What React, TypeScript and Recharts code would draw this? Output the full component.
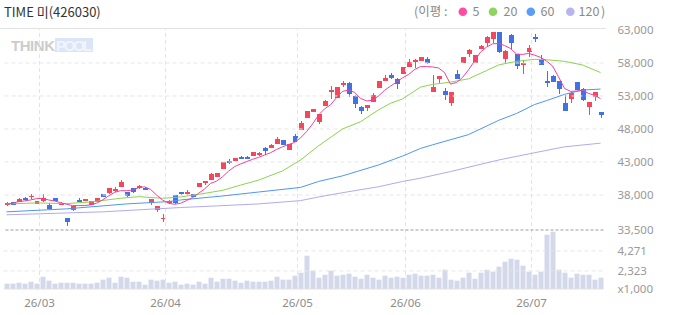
import React from "react";
import { ComposedChart, Bar, Line, XAxis, YAxis, ReferenceLine } from "recharts";

// ---- categories (trading days) ----
const dates = [
  "26/02/20", "26/02/23", "26/02/24", "26/02/25", "26/02/26", "26/02/27",
  "26/03/03", "26/03/04", "26/03/05", "26/03/06", "26/03/09", "26/03/10", "26/03/11", "26/03/12", "26/03/13",
  "26/03/16", "26/03/17", "26/03/18", "26/03/19", "26/03/20", "26/03/23", "26/03/24", "26/03/25", "26/03/26",
  "26/03/27", "26/03/30", "26/03/31",
  "26/04/01", "26/04/02", "26/04/03", "26/04/06", "26/04/07", "26/04/08", "26/04/09", "26/04/10", "26/04/13",
  "26/04/14", "26/04/15", "26/04/16", "26/04/17", "26/04/20", "26/04/21", "26/04/22", "26/04/23", "26/04/24",
  "26/04/27", "26/04/28", "26/04/29", "26/04/30",
  "26/05/04", "26/05/06", "26/05/07", "26/05/08", "26/05/11", "26/05/12", "26/05/13", "26/05/14", "26/05/15",
  "26/05/18", "26/05/19", "26/05/20", "26/05/21", "26/05/22", "26/05/26", "26/05/27", "26/05/28", "26/05/29",
  "26/06/01", "26/06/02", "26/06/04", "26/06/05", "26/06/08", "26/06/09", "26/06/10", "26/06/11", "26/06/12",
  "26/06/15", "26/06/16", "26/06/17", "26/06/18", "26/06/19", "26/06/22", "26/06/23", "26/06/24", "26/06/25",
  "26/06/26", "26/06/29", "26/06/30",
  "26/07/01", "26/07/02", "26/07/03", "26/07/06", "26/07/07", "26/07/08", "26/07/09", "26/07/10", "26/07/13",
  "26/07/14", "26/07/15", "26/07/16",
];

// ---- OHLC ----
const opens = [
  36450, 36950, 37000, 37600, 37750, 36700, 37100, 36550, 37500, 36550,
  34500, 35700, 37300, 37100, 36500, 36950, 38150, 38250, 38600, 39250,
  38450, 39050, 39050, 39100, 36750, 35750, 34350, 36850, 38000, 38400,
  38200, 38150, 39250, 39750, 40300, 40800, 42000, 43200, 43200, 43800,
  43800, 43900, 44000, 45100, 45150, 45800, 46350, 44800, 46950, 47900,
  49650, 50600, 49100, 51550, 53600, 52700, 54650, 55000, 53050, 51400,
  51150, 52150, 54200, 55300, 56150, 55600, 56400, 57400, 58200, 58350,
  58600, 53650, 55600, 53800, 52000, 56350, 58050, 59400, 58050, 60150,
  61100, 61600, 62700, 58550, 62250, 59350, 57650, 59700, 62000, 58600,
  55250, 56050, 55250, 51900, 52600, 55100, 54000, 51400, 52850, 50600,
];
const highs = [
  36900, 37000, 37600, 37750, 38100, 37100, 38150, 36850, 37550, 36900,
  34550, 36400, 37550, 37400, 37100, 37600, 38200, 39100, 39200, 40250,
  38500, 39100, 39500, 39150, 37400, 36350, 35100, 37300, 38050, 38450,
  38750, 38200, 39850, 40150, 41300, 41350, 43050, 43500, 43650, 43850,
  43850, 44550, 44450, 45300, 45750, 46750, 46400, 45800, 47250, 49150,
  50800, 51100, 50300, 52400, 54500, 54400, 55200, 55050, 53100, 51450,
  51650, 53450, 55300, 56150, 56450, 55650, 57450, 58600, 58650, 58900,
  58900, 56200, 56100, 54200, 53650, 56950, 58950, 60100, 59250, 60650,
  62050, 62750, 62750, 59900, 62400, 59400, 58400, 60750, 62400, 59250,
  56850, 56200, 55300, 53100, 53550, 55150, 54200, 52150, 53650, 50650,
];
const lows = [
  36400, 36500, 36950, 37150, 37450, 36650, 36950, 35750, 37050, 36500,
  33350, 35650, 36950, 37050, 36450, 36900, 37700, 38200, 38450, 39200,
  37750, 38250, 38900, 38750, 36550, 35450, 33950, 36650, 36700, 38050,
  37950, 37700, 39200, 39500, 40250, 40750, 41950, 42750, 43150, 43450,
  43400, 43850, 43950, 44000, 45100, 45750, 45550, 44750, 46000, 47850,
  49600, 50550, 48800, 51500, 52600, 52650, 54400, 52900, 51250, 50250,
  50800, 52100, 54150, 55250, 55600, 54100, 56350, 57350, 57200, 58300,
  57800, 53600, 54900, 52450, 51550, 55550, 58000, 58950, 58000, 60100,
  60400, 61100, 59450, 57950, 60100, 57150, 56350, 58950, 61200, 57700,
  54400, 55100, 53350, 50750, 52000, 53900, 52250, 50150, 52300, 49700,
];
const closes = [
  36850, 36550, 37450, 37300, 37900, 37050, 37550, 35850, 37100, 36850,
  33950, 36350, 37000, 37350, 37050, 37550, 37750, 39050, 38900, 40000,
  37900, 38450, 39350, 38800, 37350, 36300, 34550, 37150, 36750, 38100,
  38450, 37750, 39800, 40100, 41250, 41300, 43000, 42900, 43600, 43500,
  43450, 44500, 44400, 44700, 45550, 46450, 45600, 45750, 46050, 48850,
  50750, 51050, 50250, 52200, 53900, 54350, 55000, 53250, 51850, 50800,
  51600, 53150, 55250, 55700, 55800, 54850, 57400, 58150, 58500, 58850,
  58000, 54400, 56050, 53200, 53600, 55600, 58900, 59950, 59200, 60600,
  62000, 62700, 59700, 59850, 61050, 57550, 58050, 60250, 61600, 57750,
  55000, 55150, 54100, 50800, 53500, 53950, 52450, 52100, 53600, 50150,
];

// ---- volume (x1,000) ----
const volumes = [
  1080, 1080, 1170, 1080, 1270, 1080, 1760, 1370, 1080, 1170,
  1170, 1170, 1080, 1080, 1080, 1170, 1470, 1660, 1170, 1760,
  1660, 1270, 1270, 980, 1470, 1370, 1470, 1170, 1270, 980,
  1080, 980, 1270, 1080, 1660, 1270, 1560, 1560, 1370, 1170,
  1370, 1270, 1270, 1270, 1370, 1760, 1470, 1470, 1860, 2150,
  3800, 2340, 1660, 1950, 2340, 1860, 1950, 2050, 1760, 1560,
  1950, 1660, 1470, 1860, 1660, 1760, 1660, 1950, 2050, 1860,
  1860, 1950, 1660, 2440, 1470, 1370, 1660, 2150, 1560, 2150,
  2440, 2250, 2730, 3220, 3510, 3410, 2830, 2250, 1950, 2250,
  5850, 6140, 2440, 2150, 1660, 2050, 1950, 1950, 1470, 1660,
];

// ---- moving averages ----
const ma5 = [
  36600, 36750, 37000, 37100, 37250, 37450, 37500, 37250, 37100, 36850,
  36600, 36400, 36400, 36400, 36500, 36750, 37250, 37850, 38400, 38650,
  38650, 38750, 39100, 39250, 38850, 38000, 37250, 36750, 36600, 36750,
  37150, 37600, 38250, 38900, 39750, 40100, 40750, 41600, 42300, 42700,
  43050, 43400, 43700, 44050, 44400, 44900, 45300, 45650, 45950, 46650,
  47600, 48750, 50100, 51050, 51650, 52750, 53700, 53900, 53550, 52650,
  52250, 52350, 53000, 53850, 54500, 55100, 55750, 56250, 57000, 57450,
  57450, 57400, 57250, 56550, 54800, 55050, 55800, 56950, 58300, 59650,
  60400, 60900, 60950, 60650, 60200, 59350, 59300, 59450, 59200, 58850,
  58300, 57550, 55900, 54150, 53700, 53750, 53850, 53400, 53100, 52600,
];
const ma20Samples: [number, number][] = [
  [0, 36650], [5, 36800], [10, 36700], [14, 36950], [19, 37500], [22, 37750], [26, 37500],
  [29, 37700], [32, 38100], [36, 38700], [39, 39500], [42, 40250], [46, 41650], [49, 43300],
  [52, 45450], [56, 48000], [59, 49100], [62, 50900], [64, 51900], [66, 52550], [69, 54350],
  [71, 54750], [74, 55100], [77, 55600], [80, 56850], [82, 57700], [85, 58250], [88, 58550],
  [90, 58500], [93, 58250], [96, 57700], [99, 56550],
];
const ma60Samples: [number, number][] = [
  [0, 35450], [10, 35900], [20, 36650], [27, 37000], [29, 37250], [36, 37850], [42, 38450],
  [49, 39150], [52, 40050], [56, 40900], [62, 42550], [66, 43900], [69, 45050], [71, 45600],
  [77, 47150], [82, 49300], [85, 50350], [88, 51700], [90, 52300], [93, 53250], [96, 53900],
  [99, 54050],
];
const ma120Samples: [number, number][] = [
  [0, 35000], [16, 35450], [29, 36100], [35, 36350], [42, 36650], [49, 37150], [52, 37700],
  [56, 38350], [62, 39250], [66, 40050], [69, 40550], [74, 41550], [82, 43300], [88, 44400],
  [93, 45300], [99, 45850],
];

// ---- axes / labels ----
const monthStarts = ["26/03/03", "26/04/01", "26/05/04", "26/06/01", "26/07/01"];
const priceTicks = [38000, 43000, 48000, 53000, 58000, 63000];
const priceGrid = [38000, 43000, 48000, 53000, 58000];
const volumeTicks = [2323, 4271];
const PRICE_DOMAIN: [number, number] = [23760, 63300];
const VOLUME_DOMAIN: [number, number] = [560, 25980];
const PANEL_SPLIT = 32700;
const PANEL_SPLIT_LABEL = "33,500";
const VOLUME_UNIT_LABEL = "x1,000";
const TITLE = "TIME 미(426030)";
const maLegend = [
  { label: "5", color: "#ff4da6", cx: 462.8, tx: 472.5 },
  { label: "20", color: "#8fd45c", cx: 493, tx: 503.5 },
  { label: "60", color: "#5a9cf7", cx: 530.8, tx: 540.5 },
  { label: "120", color: "#b8b4ef", cx: 570.3, tx: 578.5 },
];

const RED = "#f4475b";
const BLUE = "#4072e4";
const fmt = (v: number) => v.toLocaleString("en-US");

const toLookup = (s: [number, number][]) => {
  const m = new Map<number, number>(s);
  return (i: number) => (m.has(i) ? (m.get(i) as number) : null);
};
const ma20At = toLookup(ma20Samples);
const ma60At = toLookup(ma60Samples);
const ma120At = toLookup(ma120Samples);

const rows = dates.map((d, i) => ({
  date: d,
  range: [lows[i], highs[i]],
  open: opens[i],
  high: highs[i],
  low: lows[i],
  close: closes[i],
  vol: volumes[i],
  ma5: ma5[i],
  ma20: ma20At(i),
  ma60: ma60At(i),
  ma120: ma120At(i),
}));

const Candle = (props: any) => {
  const { x, y, width, height, payload } = props;
  if (x == null || y == null || !payload) return null;
  const top = Math.min(y, y + height);
  const h = Math.abs(height);
  const { open, close, high, low } = payload;
  const k = high > low ? h / (high - low) : 0;
  const py = (p: number) => top + (high - p) * k;
  const color = close >= open ? RED : BLUE;
  const bx = Math.round(x);
  const bw = Math.round(width);
  const bTop = Math.round(py(Math.max(open, close)));
  const bBot = Math.round(py(Math.min(open, close)));
  const wTop = Math.round(top);
  const wBot = Math.round(top + h);
  return (
    <g>
      <rect x={bx + Math.floor(bw / 2)} y={wTop} width={1} height={Math.max(1, wBot - wTop)} fill={color} />
      <rect x={bx} y={bTop} width={bw} height={Math.max(1, bBot - bTop)} fill={color} />
    </g>
  );
};

const MonthTick = (props: any) => {
  const { x, y, payload } = props;
  return (
    <text x={x - 3} y={y} dy="0.71em" textAnchor="middle" fill="#8c8c8c" fontSize={11.5}>
      {String(payload.value).slice(0, 5)}
    </text>
  );
};

const labelStyle = { fill: "#999", fontSize: 11.5 };

export default function App() {
  return (
    <div
      style={{
        position: "absolute",
        left: 0,
        top: 0,
        width: 673,
        height: 315,
        background: "#fff",
        fontFamily: "'Noto Sans', 'Noto Sans CJK KR', sans-serif",
      }}
    >
      <svg width={673} height={315} style={{ position: "absolute", left: 0, top: 0 }}>
        <line x1={0} x2={606} y1={28.5} y2={28.5} stroke="#e2e2e2" />
        <g opacity={0.85}>
          <text x={11} y={51} fontFamily="'Liberation Sans', Arial, sans-serif" fontWeight="bold" fontSize={15} fill="#c4c4c4" textLength={44}>
            THINK
          </text>
          <rect x={55} y={38} width={38} height={14} fill="#d6e1f7" />
          <text x={56} y={51} fontFamily="'Liberation Sans', Arial, sans-serif" fontWeight="bold" fontSize={15} fill="#eef3fc" textLength={36}>
            POOL
          </text>
        </g>
      </svg>
      <div style={{ position: "absolute", left: 0, top: 0 }}>
        <ComposedChart
          width={673}
          height={315}
          data={rows}
          margin={{ top: 28, right: 9.5, bottom: 0, left: 3.5 }}
        >
          <XAxis
            xAxisId="a"
            dataKey="date"
            ticks={monthStarts}
            interval={0}
            tickLine={false}
            axisLine={{ stroke: "#e2e2e2" }}
            height={26}
            tickMargin={4}
            tick={<MonthTick />}
          />
          <XAxis xAxisId="b" dataKey="date" hide />
          <YAxis
            yAxisId="price"
            orientation="right"
            type="number"
            domain={PRICE_DOMAIN}
            allowDataOverflow
            ticks={priceTicks}
            width={60}
            axisLine={false}
            tickLine={false}
            tickMargin={8}
            tick={labelStyle}
            tickFormatter={fmt}
          />
          <YAxis yAxisId="vol" type="number" domain={VOLUME_DOMAIN} allowDataOverflow hide />

          {priceGrid.map((p) => (
            <ReferenceLine key={"pg" + p} xAxisId="a" yAxisId="price" y={p} stroke="#e6e6e6" strokeDasharray="4 3" />
          ))}
          {monthStarts.map((d) => (
            <ReferenceLine key={"vg" + d} xAxisId="a" yAxisId="price" x={d} position="start" stroke="#e4e4e4" strokeDasharray="4 3" />
          ))}
          {volumeTicks.map((v) => (
            <ReferenceLine
              key={"vt" + v}
              xAxisId="a"
              yAxisId="vol"
              y={v}
              stroke="#e6e6e6"
              strokeDasharray="4 3"
              label={{ value: fmt(v), position: "right", offset: 14, ...labelStyle }}
            />
          ))}
          <ReferenceLine
            xAxisId="a"
            yAxisId="vol"
            y={VOLUME_DOMAIN[0]}
            stroke="none"
            label={{ value: VOLUME_UNIT_LABEL, position: "right", offset: 14, ...labelStyle }}
          />
          <ReferenceLine
            xAxisId="a"
            yAxisId="price"
            y={PANEL_SPLIT}
            stroke="#9a9a9a"
            strokeDasharray="3 2"
            label={{ value: PANEL_SPLIT_LABEL, position: "right", offset: 14, ...labelStyle }}
          />

          <Bar xAxisId="b" yAxisId="vol" dataKey="vol" fill="#d3d8ea" barSize={5} isAnimationActive={false} />

          <Line xAxisId="a" yAxisId="price" dataKey="ma120" stroke="#b0aaee" strokeWidth={1} dot={false} activeDot={false} connectNulls isAnimationActive={false} />
          <Line xAxisId="a" yAxisId="price" dataKey="ma60" stroke="#4f96f0" strokeWidth={1} dot={false} activeDot={false} connectNulls isAnimationActive={false} />
          <Line xAxisId="a" yAxisId="price" dataKey="ma20" stroke="#8cd250" strokeWidth={1} dot={false} activeDot={false} connectNulls isAnimationActive={false} />
          <Line xAxisId="a" yAxisId="price" dataKey="ma5" stroke="#f23f9e" strokeWidth={1} dot={false} activeDot={false} isAnimationActive={false} />

          <Bar xAxisId="a" yAxisId="price" dataKey="range" barSize={5} shape={<Candle />} isAnimationActive={false} />
        </ComposedChart>
      </div>
      <svg width={673} height={30} style={{ position: "absolute", left: 0, top: 0, pointerEvents: "none" }}>
        <text x={4} y={17} fontSize={13} fill="#333" fontFamily="'Noto Sans CJK KR', 'Noto Sans', sans-serif">
          {TITLE}
        </text>
        <text x={414} y={16} fontSize={12.5} fill="#8a8a8a" fontFamily="'Noto Sans CJK KR', 'Noto Sans', sans-serif">
          (이평 :
        </text>
        {maLegend.map((m) => (
          <g key={m.label}>
            <circle cx={m.cx} cy={11.7} r={4.3} fill={m.color} />
            <text x={m.tx} y={16} fontSize={12.5} fill="#8a8a8a" fontFamily="'Noto Sans CJK KR', 'Noto Sans', sans-serif">
              {m.label}
            </text>
          </g>
        ))}
        <text x={601} y={16} fontSize={12.5} fill="#8a8a8a" fontFamily="'Noto Sans CJK KR', 'Noto Sans', sans-serif">
          )
        </text>
      </svg>
    </div>
  );
}
